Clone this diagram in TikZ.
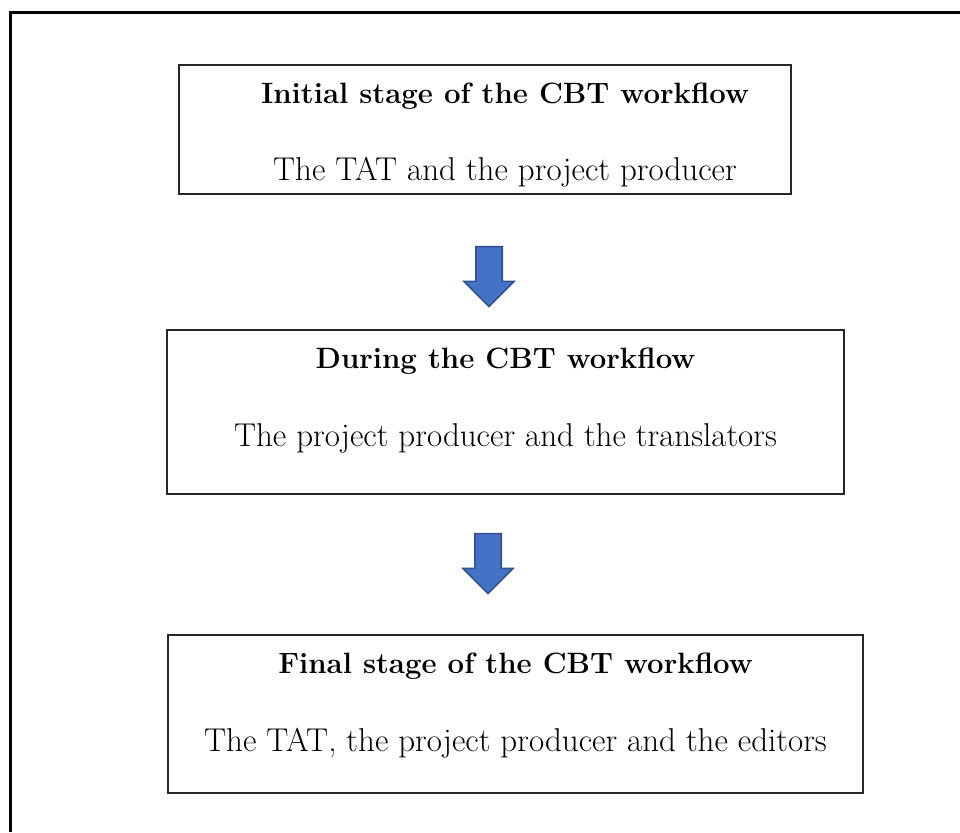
\documentclass[tikz,border=0pt]{standalone}
\usetikzlibrary{shapes.arrows}
\usetikzlibrary{positioning}
\usepackage{xcolor}

\definecolor{arrowblue}{HTML}{4472C4}
\definecolor{arrowedge}{HTML}{2F528F}

\begin{document}
\begin{tikzpicture}[
        x=0.5pt, y=-0.5pt,
        stagebox/.style={rectangle, draw=black!85, line width=0.9pt, inner sep=0pt},
        stagetitle/.style={anchor=base, font=\fontsize{14.7}{17}\selectfont\bfseries},
        stagetext/.style={anchor=base, font=\fontsize{16.5}{19}\selectfont},
        blockarrow/.style={single arrow, rotate=-90, fill=arrowblue, draw=arrowedge, line width=0.8pt,
            single arrow tip angle=90, single arrow head extend=6pt, minimum height=30pt, inner sep=6.2pt}
    ]
        \useasboundingbox (0,0) rectangle (960,832);
        % frame (only top and left edges are visible)
        \draw[line width=1.5pt] (10,832) -- (10,12) -- (960,12);

        \node[stagebox, minimum width=306pt, minimum height=64.5pt] (A) at (485,129.5) {};
        \node[stagebox, minimum width=338.5pt, minimum height=82pt] (B) at (505.5,412) {};
        \node[stagebox, minimum width=347.5pt, minimum height=79pt] (C) at (515.5,714) {};

        \node[stagetitle] (At) at ([xshift=10pt,yshift=-19.5pt]A.north) {Initial stage of the CBT workflow};
        \node[stagetext] (As) at ([xshift=10pt,yshift=-58pt]A.north) {The TAT and the project producer};
        \node[stagetitle] (Bt) at ([yshift=-19.5pt]B.north) {During the CBT workflow};
        \node[stagetext] (Bs) at ([yshift=-58.5pt]B.north) {The project producer and the translators};
        \node[stagetitle] (Ct) at ([yshift=-19.5pt]C.north) {Final stage of the CBT workflow};
        \node[stagetext] (Cs) at ([yshift=-58.5pt]C.north) {The TAT, the project producer and the editors};

        \node[blockarrow] (AB) at (489,270) {};
        \node[blockarrow] (BC) at (488,557) {};
    \end{tikzpicture}
\end{document}
